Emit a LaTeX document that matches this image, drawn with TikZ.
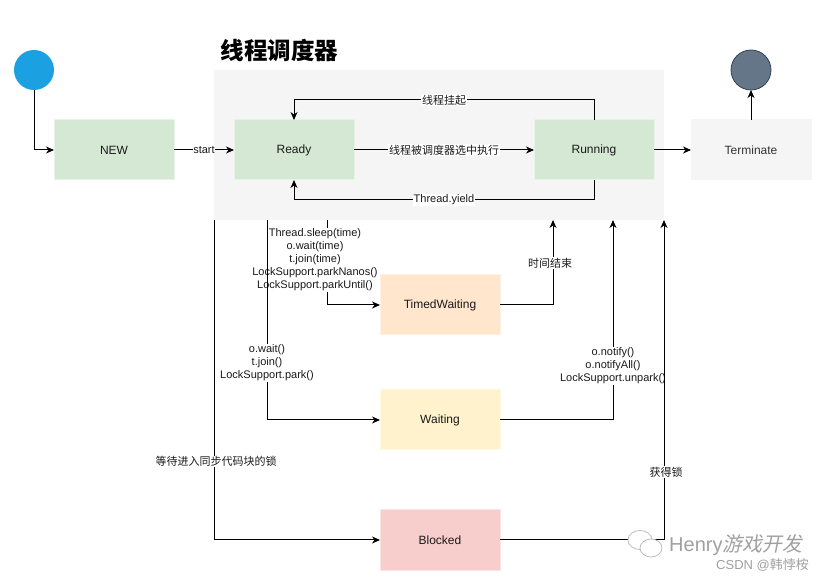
\documentclass[tikz,border=0pt]{standalone}
\usepackage{fontspec}
\setmainfont{Liberation Sans}
\newfontfamily\cjk{Noto Sans CJK SC}
\newfontfamily\cjkslant[FakeSlant=0.2]{Noto Sans CJK SC}
\usetikzlibrary{arrows.meta, positioning, calc, backgrounds}
\definecolor{startcolor}{RGB}{27, 161, 226}
\definecolor{endcolor}{RGB}{100, 118, 135}
\definecolor{endline}{RGB}{49, 67, 84}
\definecolor{readycolor}{RGB}{213, 232, 212}
\definecolor{termcolor}{RGB}{245, 245, 245}
\definecolor{timedcolor}{RGB}{255, 230, 204}
\definecolor{waitcolor}{RGB}{255, 242, 204}
\definecolor{blockcolor}{RGB}{248, 206, 204}
\definecolor{textcolor}{RGB}{26, 26, 26}
\definecolor{markcolor}{RGB}{160, 160, 160}
\tikzset{
    % Base styles
    basenode/.style={
        align=center, font=\fontsize{12}{14}\selectfont, text=textcolor,
        minimum width=120pt, minimum height=60pt, inner sep=0pt, outer sep=0pt,
        line width=1pt
    },
    % State types
    readynode/.style={basenode, fill=readycolor, draw=readycolor!55!white},
    termnode/.style={basenode, fill=termcolor, draw=termcolor, text=black!80},
    timednode/.style={basenode, fill=timedcolor, draw=timedcolor!55!white},
    waitnode/.style={basenode, fill=waitcolor, draw=waitcolor!55!white},
    blocknode/.style={basenode, fill=blockcolor, draw=blockcolor!55!white},
    % Start / end dots
    dot/.style={circle, minimum size=40pt, inner sep=0pt, outer sep=0pt},
    % Scheduler area
    schedbox/.style={fill=termcolor, minimum width=450pt, minimum height=150pt, inner sep=0pt, outer sep=0pt},
    titletext/.style={font=\cjk\bfseries\fontsize{23.5}{27}\selectfont, text=black},
    % Arrows
    myarrow/.style={-{Stealth[length=8pt, width=7pt, inset=2.5pt]}, line width=1pt, black},
    % Labels
    edgelabel/.style={fill=white, inner sep=0.6pt, font=\fontsize{11}{13}\selectfont,
        align=center, text=textcolor},
    marktext/.style={text=markcolor, inner sep=0pt},
}

\begin{document}
\begin{tikzpicture}[x=1pt, y=-1pt]
\useasboundingbox (0,0) rectangle (831,585);

% ===== Scheduler area =====
\begin{scope}[on background layer]
    \node (sched) [schedbox] at (439,145) {};
\end{scope}
\node (title) [titletext, anchor=west] at (217,50) {线程调度器};

% ===== States =====
\node (startdot) [dot, fill=startcolor] at (34,70) {};
\node (new) [readynode] at (114,150) {NEW};
\node (ready) [readynode, right=60pt of new] {Ready};
\node (running) [readynode, right=180pt of ready] {Running};
\node (terminate) [termnode, right=37pt of running] {Terminate};
\node (enddot) [dot, fill=endcolor, draw=endline, line width=0.8pt, above=30pt of terminate] {};

\node (timed) [timednode, below right=95pt and 26pt of ready.south east, anchor=north west] {TimedWaiting};
\node (waiting) [waitnode, below=55pt of timed] {Waiting};
\node (blocked) [blocknode, below=60pt of waiting] {Blocked};

% exits and entries on the scheduler area
\coordinate (blockout) at (sched.south west);
\coordinate (waitout) at ($(sched.south west)+(53,0)$);
\coordinate (timedout) at ($(sched.south west)+(113,0)$);
\coordinate (timedin) at ($(sched.south east)+(-111,0)$);
\coordinate (waitin) at ($(sched.south east)+(-51,0)$);
\coordinate (blockin) at (sched.south east);

% ===== Main line =====
\draw[myarrow] (startdot) |- (new);
\draw[myarrow] (new) -- node[edgelabel] {start} (ready);
\draw[myarrow] (ready) -- node[edgelabel] {\cjk 线程被调度器选中执行} (running);
\draw[myarrow] (running) -- (terminate);
\draw[myarrow] (terminate) -- (enddot);

\draw[myarrow] (running.north) -- ++(0,-20) -| node[pos=0.25, edgelabel] {\cjk 线程挂起} (ready.north);
\draw[myarrow] (running.south) -- ++(0,20) -| node[pos=0.25, edgelabel] {Thread.yield} (ready.south);

% ===== Leaving the scheduler =====
\draw[myarrow] (timedout) |- node[pos=0.235, xshift=-12pt, edgelabel] {Thread.sleep(time)\\o.wait(time)\\t.join(time)\\LockSupport.parkNanos()\\LockSupport.parkUntil()} (timed);
\draw[myarrow] (waitout) |- node[pos=0.357, edgelabel] {o.wait()\\t.join()\\LockSupport.park()} (waiting);
\draw[myarrow] (blockout) |- node[pos=0.377, xshift=2pt, edgelabel] {\cjk 等待进入同步代码块的锁} (blocked);

% ===== Back to the scheduler =====
\draw[myarrow] (timed) -| node[pos=0.747, xshift=-3pt, edgelabel] {\cjk 时间结束} (timedin);
\draw[myarrow] (waiting) -| node[pos=0.635, edgelabel] {o.notify()\\o.notifyAll()\\LockSupport.unpark()} (waitin);
\draw[myarrow] (blocked) -| node[pos=0.606, xshift=2pt, edgelabel] {\cjk 获得锁} (blockin);

% ===== Watermark =====
\draw[markcolor!70, line width=0.8pt, fill=white] (640,540) ellipse [x radius=12, y radius=9.5];
\draw[markcolor!70, line width=0.8pt, fill=white] (651,548) ellipse [x radius=11, y radius=9];
\node (mark) [marktext, anchor=west, font=\fontsize{20}{24}\selectfont] at (669,545) {Henry{\cjkslant 游戏开发}};
\node (csdn) [marktext, anchor=west, font=\fontsize{13}{15}\selectfont] at (716,565) {CSDN @{\cjk 韩悖桉}};

\end{tikzpicture}
\end{document}
